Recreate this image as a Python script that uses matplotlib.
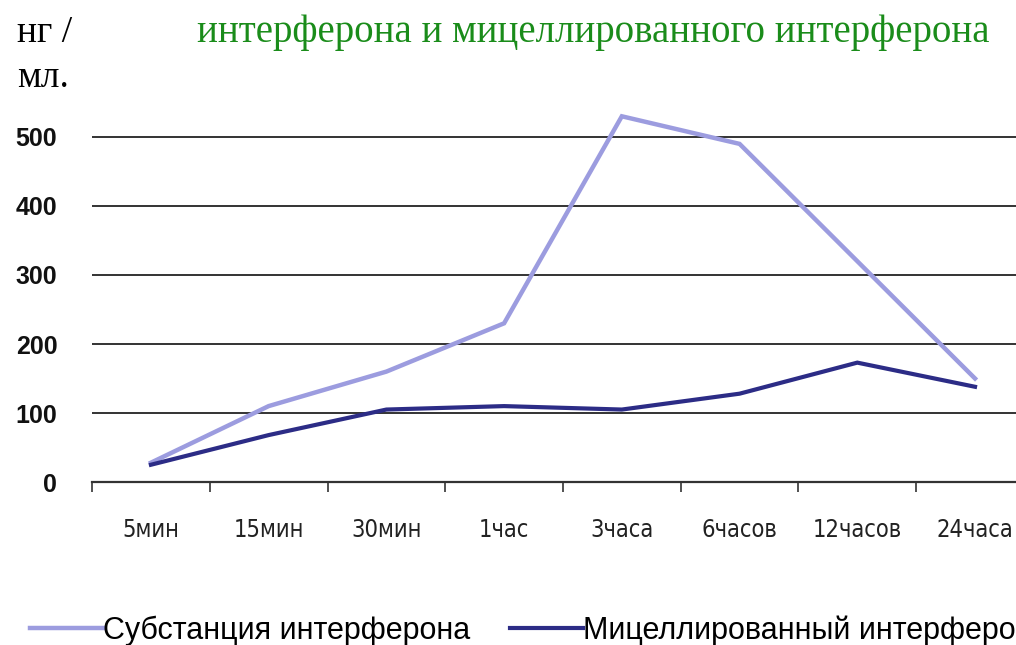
import matplotlib.pyplot as plt
import numpy as np

# data
categories = ["5мин", "15мин", "30мин", "1час", "3часа", "6часов", "12часов", "24часа"]
substance = [28, 110, 160, 230, 530, 490, 320, 150]
micelle = [25, 68, 105, 110, 105, 128, 173, 138]
series_names = ["Субстанция интерферона", "Мицеллированный интерферон"]
yticks = [0, 100, 200, 300, 400, 500]

light = "#9c9cdf"
dark = "#2c2c86"

fig = plt.figure(figsize=(10.16, 6.45), dpi=100)
ax = fig.add_axes([0.0906, 0.2527, 0.927, 0.6419])

x = np.arange(len(categories))
ax.plot(x, substance, color=light, lw=3.2, solid_joinstyle="miter", zorder=3)
ax.plot(x, micelle, color=dark, lw=3.0, solid_joinstyle="miter", zorder=3)

ax.set_xlim(-0.5, len(categories) - 0.5)
ax.set_ylim(0, 600)
ax.set_yticks(yticks)
ax.set_yticklabels([str(v) for v in yticks], fontsize=18, fontweight="bold",
                   family="Liberation Sans", color="#111111")
ax.tick_params(axis="y", length=0, pad=25)
for v in yticks[1:]:
    ax.axhline(v, color="#333333", lw=1.4, zorder=1)

ax.set_xticks(x)
ax.set_xticklabels(categories, fontsize=17, family="DejaVu Sans", fontstretch="condensed",
                   color="#222222")
ax.tick_params(axis="x", length=0, pad=26)
ax.set_xticks(np.arange(len(categories) + 1) - 0.5, minor=True)
ax.tick_params(axis="x", which="minor", length=7, width=1.2, color="#333333", direction="out")

for s in ["top", "right", "left"]:
    ax.spines[s].set_visible(False)
ax.spines["bottom"].set_color("#333333")
ax.spines["bottom"].set_linewidth(1.6)

# title and unit label
fig.text(0.1935, 0.95, "интерферона и мицеллированного интерферона", color="#1a8c1a",
         fontsize=28, family="Liberation Serif", ha="left", va="center")
fig.text(0.017, 0.95, "нг /", fontsize=27, family="Liberation Serif", ha="left", va="center")
fig.text(0.017, 0.879, "мл.", fontsize=27, family="Liberation Serif", ha="left", va="center")

leg = fig.legend([plt.Line2D([], [], color=light, lw=3.2), plt.Line2D([], [], color=dark, lw=3.0)],
                 series_names, loc="center left", bbox_to_anchor=(0.002, 0.022),
                 ncol=2, frameon=False, handlelength=2.4, handletextpad=0.0,
                 columnspacing=1.3, prop={"family": "Liberation Sans", "size": 22})

fig.savefig("out.png", dpi=100)
